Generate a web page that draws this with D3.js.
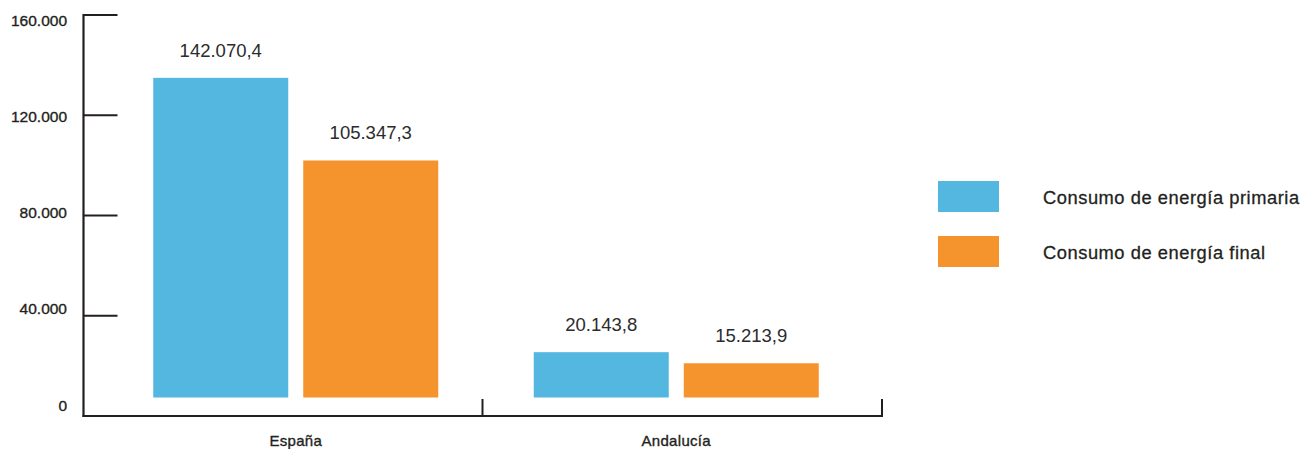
<!DOCTYPE html>
<html>
<head>
<meta charset="utf-8">
<script src="https://cdn.jsdelivr.net/npm/d3@7"></script>
<style>
  html, body { margin: 0; padding: 0; background: #fff; }
  svg { display: block; }
  text { font-family: "Liberation Sans", Arial, Helvetica, sans-serif; fill: #231f20; }
</style>
</head>
<body>
<svg id="chart" width="1303" height="449"></svg>
<script>
const categories = ["España", "Andalucía"];
const seriesNames = ["Consumo de energía primaria", "Consumo de energía final"];
const primaria = [142070.4, 20143.8];
const final = [105347.3, 15213.9];
const yTicks = [0, 40000, 80000, 120000, 160000];
const colors = ["#54b7e0", "#f5942c"];

const fmt = v => {
  const [i, d] = v.toFixed(1).split(".");
  return i.replace(/\B(?=(\d{3})+(?!\d))/g, ".") + "," + d;
};
const fmtTick = v => String(v).replace(/\B(?=(\d{3})+(?!\d))/g, ".");

const svg = d3.select("#chart");
const ink = "#231f20";

// Scales
const yAxisScale = d3.scaleLinear().domain([0, 160000]).range([416, 15]);
const yLabelScale = d3.scaleLinear().domain([0, 160000]).range([410.5, 25.5]);
const yBar = d3.scaleLinear().domain([0, 160000]).range([397.5, 37.5]);
const xAxisBand = d3.scaleBand().domain(categories).range([83, 882]).padding(0);
const xGroup = d3.scaleBand().domain(categories).range([105.5, 866.5]).padding(0);
const xSeries = d3.scaleBand().domain(seriesNames).range([0, 285]).paddingInner(0.1);

// Y axis line and ticks
svg.append("line").attr("x1", 83.5).attr("x2", 83.5)
  .attr("y1", yAxisScale(160000) - 1).attr("y2", yAxisScale(0) + 1)
  .attr("stroke", ink).attr("stroke-width", 2.2);
svg.selectAll(".ytick").data(yTicks.filter(t => t > 0)).enter().append("line")
  .attr("x1", 83.5).attr("x2", 117.5)
  .attr("y1", d => yAxisScale(d)).attr("y2", d => yAxisScale(d))
  .attr("stroke", ink).attr("stroke-width", 2);
svg.selectAll(".ylab").data(yTicks).enter().append("text")
  .attr("x", 67).attr("y", d => yLabelScale(d))
  .attr("text-anchor", "end")
  .attr("font-size", 15.5)
  .attr("stroke", ink).attr("stroke-width", 0.35)
  .text(fmtTick);

// X axis
svg.append("line").attr("x1", 82.5).attr("x2", 883)
  .attr("y1", yAxisScale(0)).attr("y2", yAxisScale(0))
  .attr("stroke", ink).attr("stroke-width", 2.2);
const xTickPos = categories.map(c => xAxisBand(c) + xAxisBand.bandwidth());
svg.selectAll(".xtick").data(xTickPos).enter().append("line")
  .attr("x1", d => d).attr("x2", d => d)
  .attr("y1", 399).attr("y2", yAxisScale(0))
  .attr("stroke", ink).attr("stroke-width", 2);
svg.selectAll(".xlab").data(categories).enter().append("text")
  .attr("x", d => xGroup(d) + xGroup.bandwidth() / 2)
  .attr("y", 446)
  .attr("text-anchor", "middle")
  .attr("font-size", 15)
  .attr("letter-spacing", 0.3)
  .attr("stroke", ink).attr("stroke-width", 0.35)
  .text(d => d);

// Bars
const seriesData = [primaria, final];
const groupOffset = (xGroup.bandwidth() - 285) / 2;
seriesNames.forEach((s, si) => {
  const g = svg.append("g");
  g.selectAll("rect").data(categories).enter().append("rect")
    .attr("x", c => xGroup(c) + groupOffset + xSeries(s))
    .attr("width", xSeries.bandwidth())
    .attr("y", (c, i) => yBar(seriesData[si][i]))
    .attr("height", (c, i) => yBar(0) - yBar(seriesData[si][i]))
    .attr("fill", colors[si]);
  g.selectAll("text").data(categories).enter().append("text")
    .attr("x", c => xGroup(c) + groupOffset + xSeries(s) + xSeries.bandwidth() / 2)
    .attr("y", (c, i) => yBar(seriesData[si][i]) - 21)
    .attr("text-anchor", "middle")
    .attr("font-size", 18.5)
    .style("fill", "#2b2b2b")
    .text((c, i) => fmt(seriesData[si][i]));
});

// Legend
const legendY = d3.scalePoint().domain(seriesNames).range([196.5, 251.5]);
const lg = svg.append("g");
seriesNames.forEach((s, si) => {
  lg.append("rect").attr("x", 938).attr("y", legendY(s) - 15.5)
    .attr("width", 61).attr("height", 31).attr("fill", colors[si]);
  lg.append("text").attr("x", 1043).attr("y", legendY(s) + 7)
    .attr("font-size", 18.3)
    .attr("letter-spacing", 0.55)
    .attr("stroke", ink).attr("stroke-width", 0.3)
    .text(s);
});
</script>
</body>
</html>
